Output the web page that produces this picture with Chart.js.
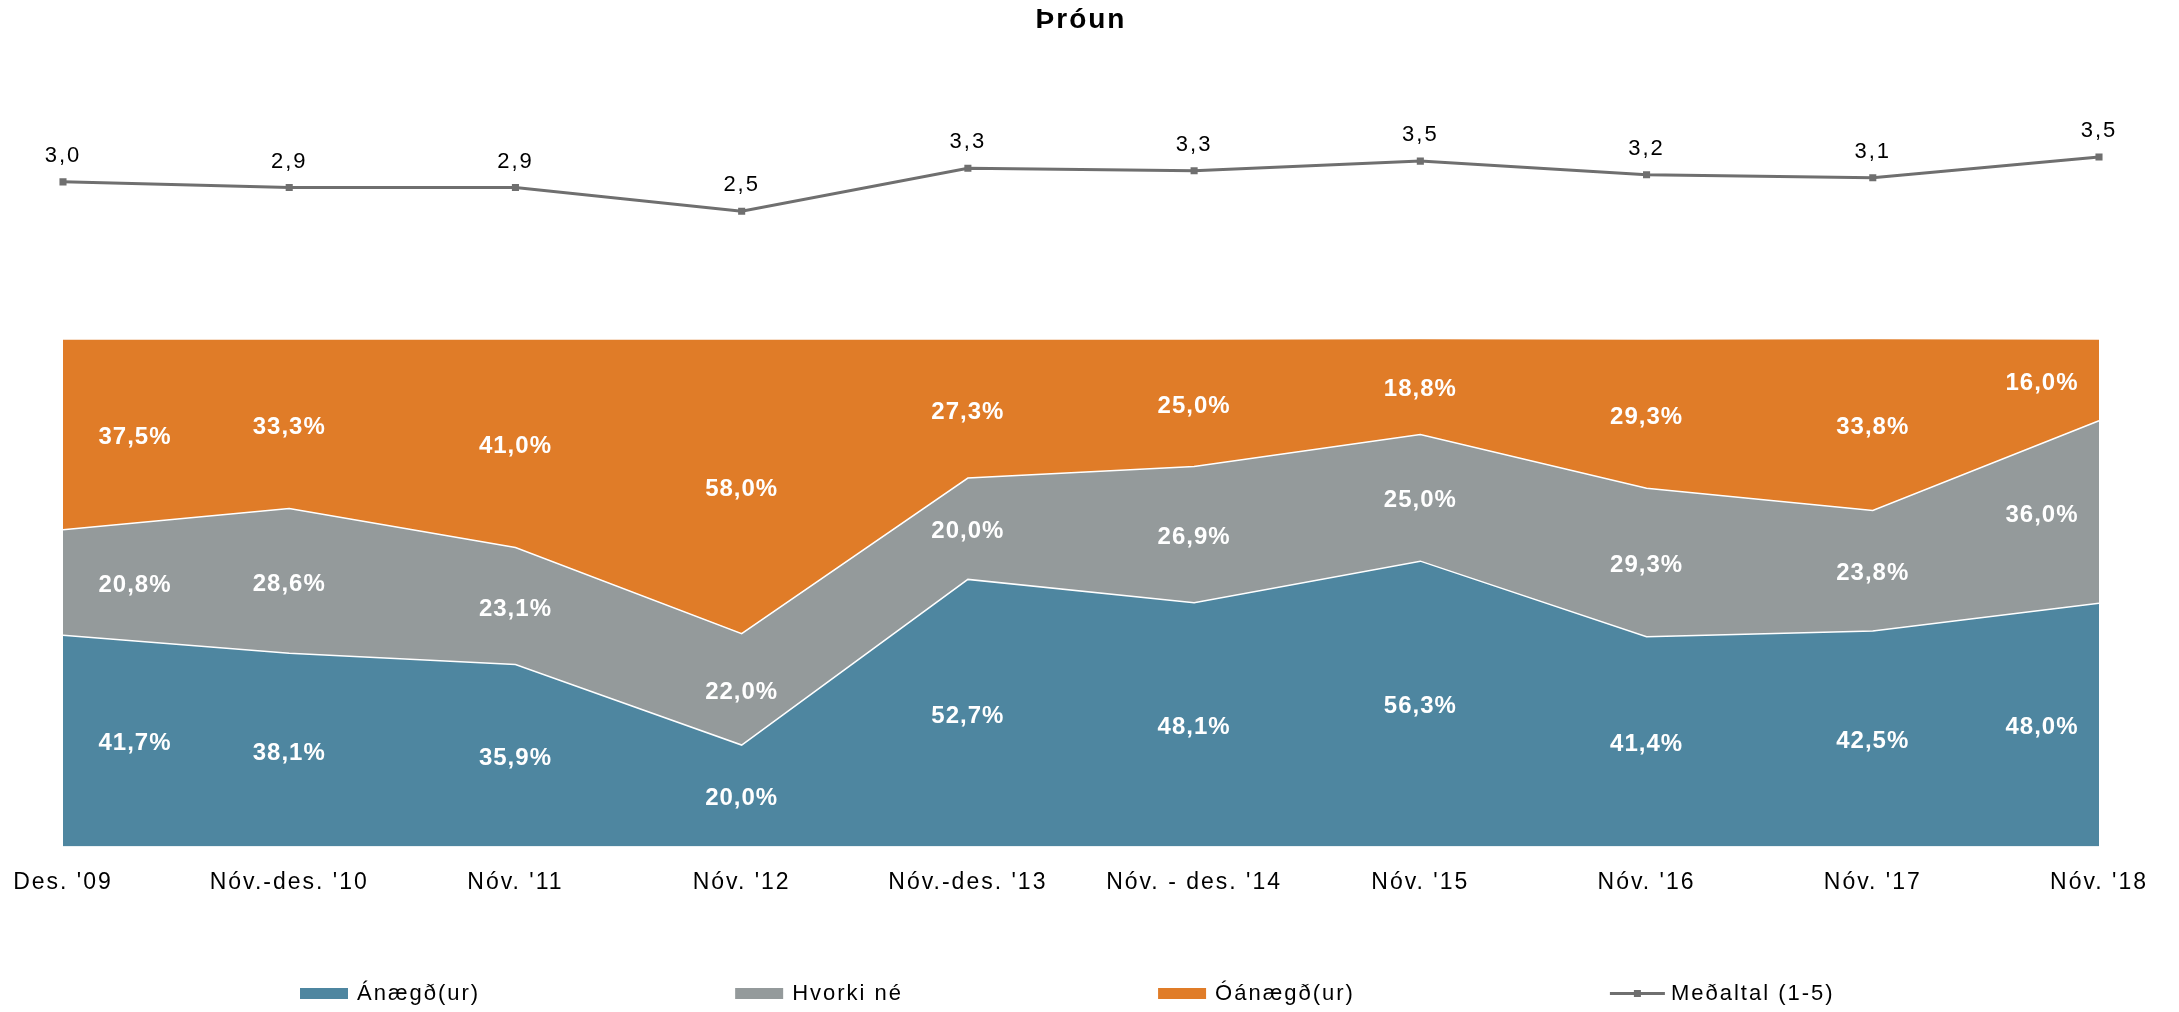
<!DOCTYPE html>
<html><head><meta charset="utf-8">
<script src="https://cdn.jsdelivr.net/npm/chart.js@4.4.1/dist/chart.umd.min.js"></script>
<style>html,body{margin:0;padding:0;background:#fff;overflow:hidden}</style>
</head><body>
<canvas id="c" width="2179" height="1012"></canvas>
<script>
// ---- data ----
const categories = ["Des. '09", "Nóv.-des. '10", "Nóv. '11", "Nóv. '12", "Nóv.-des. '13", "Nóv. - des. '14", "Nóv. '15", "Nóv. '16", "Nóv. '17", "Nóv. '18"];
const anaegd  = [41.7, 38.1, 35.9, 20.0, 52.7, 48.1, 56.3, 41.4, 42.5, 48.0];
const hvorki  = [20.8, 28.6, 23.1, 22.0, 20.0, 26.9, 25.0, 29.3, 23.8, 36.0];
const oanaegd = [37.5, 33.3, 41.0, 58.0, 27.3, 25.0, 18.8, 29.3, 33.8, 16.0];
const medaltal = [3.04, 2.93, 2.93, 2.46, 3.31, 3.26, 3.45, 3.18, 3.12, 3.53];
const seriesNames = ['Ánægð(ur)', 'Hvorki né', 'Óánægð(ur)', 'Meðaltal (1-5)'];
const chartTitle = 'Þróun';

// ---- styles ----
const FONT = '"Liberation Sans", Arial, sans-serif';
const COL_BLUE = '#4e86a0';
const COL_GRAY = '#949a9b';
const COL_ORANGE = '#e07c28';
const COL_LINE = '#6f6f6f';

Chart.defaults.font.family = FONT;

const fmt = (v, d) => v.toFixed(d).replace('.', ',');

const overlay = {
  id: 'overlay',
  beforeUpdate(chart) { chart.ctx.letterSpacing = '2px'; },
  beforeDraw(chart) { chart.ctx.letterSpacing = '2px'; },
  afterDatasetsDraw(chart) {
    const ctx = chart.ctx;
    const ys = chart.scales.y;
    const n = categories.length;
    const stacks = [anaegd, hvorki, oanaegd];
    ctx.save();
    ctx.font = 'bold 24px ' + FONT;
    ctx.letterSpacing = '1px';
    ctx.fillStyle = '#ffffff';
    ctx.textAlign = 'center';
    ctx.textBaseline = 'middle';
    for (let j = 0; j < n; j++) {
      let base = 0;
      stacks.forEach((arr, i) => {
        const v = arr[j];
        const pt = chart.getDatasetMeta(i).data[j];
        let x = pt.x;
        if (j === 0) x += 72; else if (j === n - 1) x -= 57;
        const y = ys.getPixelForValue(base + v / 2) + 3;
        ctx.fillText(fmt(v, 1) + '%', x, y);
        base += v;
      });
    }
    ctx.font = '22px ' + FONT;
    ctx.letterSpacing = '2px';
    ctx.fillStyle = '#000000';
    chart.getDatasetMeta(3).data.forEach((p, j) => {
      ctx.fillText(fmt(medaltal[j], 1), p.x, p.y - 26);
    });
    ctx.restore();
  },
  afterDraw(chart) {
    const ctx = chart.ctx;
    ctx.save();
    ctx.font = '22px ' + FONT;
    ctx.letterSpacing = '2px';
    ctx.textAlign = 'left';
    ctx.textBaseline = 'middle';
    const cy = 993.5;
    let x = 300;
    const fills = [COL_BLUE, COL_GRAY, COL_ORANGE];
    seriesNames.forEach((name, i) => {
      if (i < 3) {
        ctx.fillStyle = fills[i];
        ctx.fillRect(x, cy - 5.5, 48, 11);
        x += 48 + 9;
      } else {
        ctx.strokeStyle = COL_LINE;
        ctx.lineWidth = 3;
        ctx.beginPath();
        ctx.moveTo(x, cy); ctx.lineTo(x + 55, cy); ctx.stroke();
        ctx.fillStyle = COL_LINE;
        ctx.fillRect(x + 27.5 - 3.5, cy - 3.5, 7, 7);
        x += 55 + 6;
      }
      ctx.fillStyle = '#000000';
      ctx.fillText(name, x, cy);
      x += ctx.measureText(name).width + 255;
    });
    ctx.restore();
  }
};

new Chart(document.getElementById('c'), {
  data: {
    labels: categories,
    datasets: [
      { type: 'line', label: seriesNames[0], data: anaegd, yAxisID: 'y', fill: 'origin',
        backgroundColor: COL_BLUE, borderColor: '#ffffff', borderWidth: 1.5, pointRadius: 0, tension: 0 },
      { type: 'line', label: seriesNames[1], data: hvorki, yAxisID: 'y', fill: '-1',
        backgroundColor: COL_GRAY, borderColor: '#ffffff', borderWidth: 1.5, pointRadius: 0, tension: 0 },
      { type: 'line', label: seriesNames[2], data: oanaegd, yAxisID: 'y', fill: '-1',
        backgroundColor: COL_ORANGE, borderColor: 'rgba(255,255,255,0)', borderWidth: 0, pointRadius: 0, tension: 0 },
      { type: 'line', label: seriesNames[3], data: medaltal, yAxisID: 'y2', fill: false,
        borderColor: COL_LINE, borderWidth: 3, pointStyle: 'rect', pointRadius: 5,
        pointBackgroundColor: COL_LINE, pointBorderWidth: 0, tension: 0 }
    ]
  },
  options: {
    responsive: false,
    animation: false,
    devicePixelRatio: 1,
    layout: { padding: { left: 63, right: 80, top: 3, bottom: 116 } },
    scales: {
      x: { type: 'category', offset: false,
        grid: { display: true, drawOnChartArea: false, drawTicks: true, tickLength: 22, color: 'rgba(0,0,0,0)' },
        border: { display: false },
        ticks: { color: '#000000', font: { size: 23 }, padding: 0, maxRotation: 0, autoSkip: false } },
      y: { stacked: true, display: false, min: 0, max: 147.4 },
      y2: { display: false, min: -10.069, max: 4.663 }
    },
    plugins: {
      legend: { display: false },
      tooltip: { enabled: false },
      title: { display: true, text: chartTitle, color: '#000000',
        font: { size: 28, weight: 'bold' }, padding: { top: 0, bottom: 63 } }
    }
  },
  plugins: [overlay]
});
</script>
</body></html>
